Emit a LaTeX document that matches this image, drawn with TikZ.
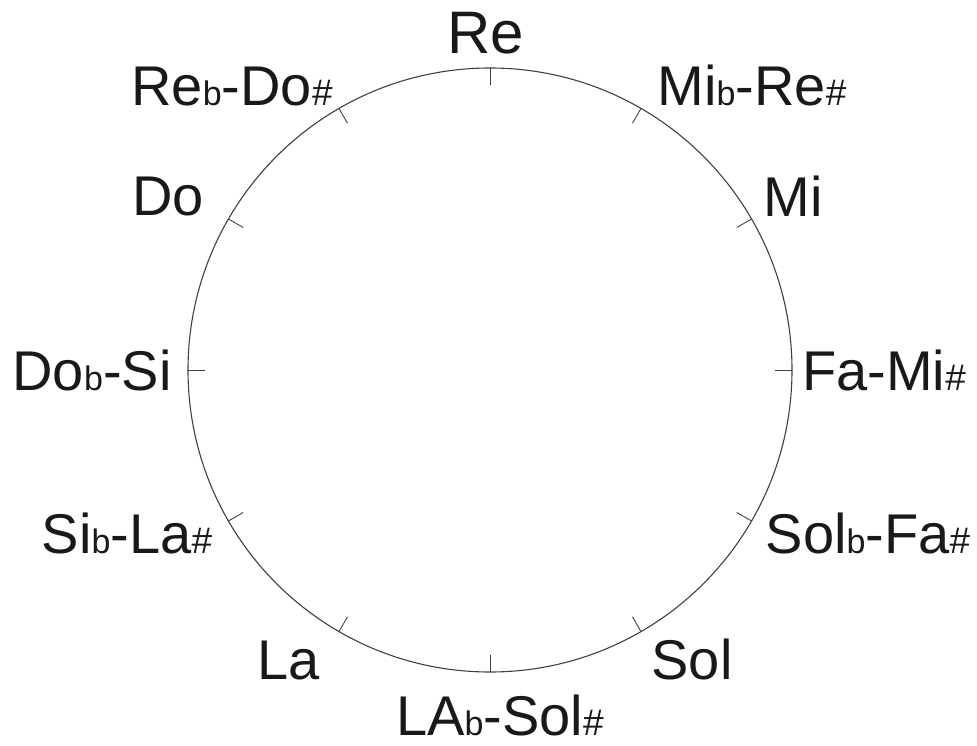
\documentclass[tikz,border=0pt]{standalone}
\usepackage{fontspec}
\setmainfont{Liberation Sans}
\usetikzlibrary{calc}
\newcommand{\flt}{{\fontsize{34}{34}\selectfont b}}
\newcommand{\shp}{{\fontsize{37}{37}\selectfont\#}}
\begin{document}
\begin{tikzpicture}[x=1pt,y=-1pt,
  lbl/.style={anchor=base,inner sep=0pt,text=black!90,font=\fontsize{56}{56}\selectfont},
  tickline/.style={draw=black!75,line width=0.9pt}]
\useasboundingbox (0,0) rectangle (977,746);
\coordinate (c) at (490,370);
\draw[draw=black!75,line width=1.1pt] (c) circle[radius=302pt];
\foreach \a in {0,30,...,330}{
  \draw[tickline] ($(c)+(\a:302pt)$) -- ($(c)+(\a:285pt)$);
}
\node[lbl,font=\fontsize{60}{60}\selectfont] (re) at (486,54) {Re};
\node[lbl] (redo) at (232,106) {Re\flt-Do\shp};
\node[lbl] (mire) at (752,106) {Mi\flt-Re\shp};
\node[lbl] (do) at (168,216) {Do};
\node[lbl] (mi) at (793,217) {Mi};
\node[lbl] (dosi) at (92,390) {Do\flt-Si};
\node[lbl] (fami) at (884,390) {Fa-Mi\shp};
\node[lbl] (sila) at (127,553) {Si\flt-La\shp};
\node[lbl] (solfa) at (868,553) {Sol\flt-Fa\shp};
\node[lbl] (la) at (289,679) {La};
\node[lbl] (sol) at (692,679) {Sol};
\node[lbl] (lasol) at (500,735) {LA\flt-Sol\shp};
\end{tikzpicture}
\end{document}
